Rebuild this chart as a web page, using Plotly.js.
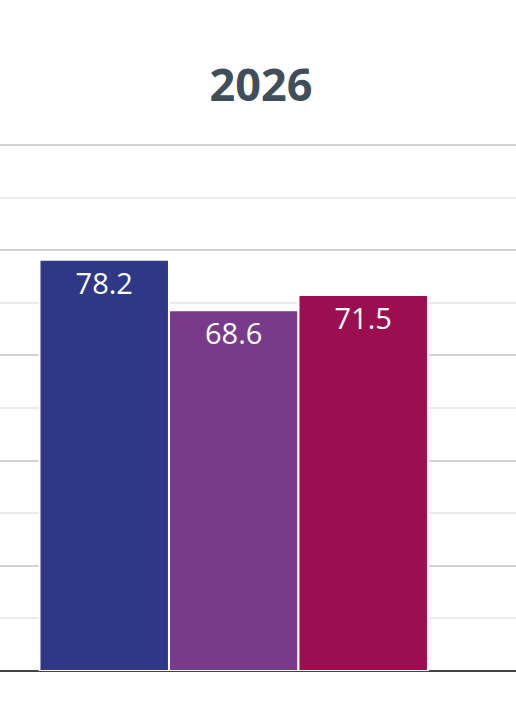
<!DOCTYPE html>
<html>
<head>
<meta charset="utf-8">
<script src="https://cdn.plot.ly/plotly-3.0.1.min.js"></script>
<style>
  html, body { margin: 0; padding: 0; background: #fff; }
  #chart { width: 516px; height: 713px; }
</style>
</head>
<body>
<div id="chart"></div>
<script>
// bars shown for the one year in view
var categories = ["A", "B", "C"];
var values = [78.2, 68.6, 71.5];
var barColors = ["#2f3886", "#783a8b", "#9b0f50"];
var chartTitle = "2026";

var data = [
  {
    type: "bar",
    x: categories,
    y: values,
    text: values.map(function (v) { return v.toFixed(1); }),
    textposition: "inside",
    insidetextanchor: "end",
    textangle: 0,
    insidetextfont: { family: "Open Sans", size: 29, color: "#ffffff" },
    marker: {
      color: barColors,
      line: { color: "#ffffff", width: 2 },
    },
    hoverinfo: "skip",
  },
];

var layout = {
  width: 516,
  height: 713,
  margin: { l: 0, r: 0, t: 124, b: 42 },
  paper_bgcolor: "#ffffff",
  plot_bgcolor: "#ffffff",
  showlegend: false,
  bargap: 0,
  title: {
    text: "<b>" + chartTitle + "</b>",
    font: { family: "Open Sans", size: 45, color: "#404e5c" },
    x: 261 / 516,
    xanchor: "center",
    y: 1 - 85 / 713,
    yref: "container",
    yanchor: "middle",
  },
  xaxis: {
    type: "category",
    range: [-0.805, 3.18],
    showticklabels: false,
    showgrid: false,
    zeroline: false,
    showline: false,
    ticks: "",
    fixedrange: true,
  },
  yaxis: {
    range: [0, 104],
    dtick: 20,
    showticklabels: false,
    ticks: "",
    showgrid: true,
    gridcolor: "#d2d2d2",
    gridwidth: 2,
    minor: { dtick: 10, showgrid: true, gridcolor: "#ebebeb", gridwidth: 2 },
    zeroline: true,
    zerolinecolor: "#444444",
    zerolinewidth: 2,
    showline: false,
    fixedrange: true,
  },
};

Plotly.newPlot("chart", data, layout, { displayModeBar: false, staticPlot: true });
</script>
</body>
</html>
